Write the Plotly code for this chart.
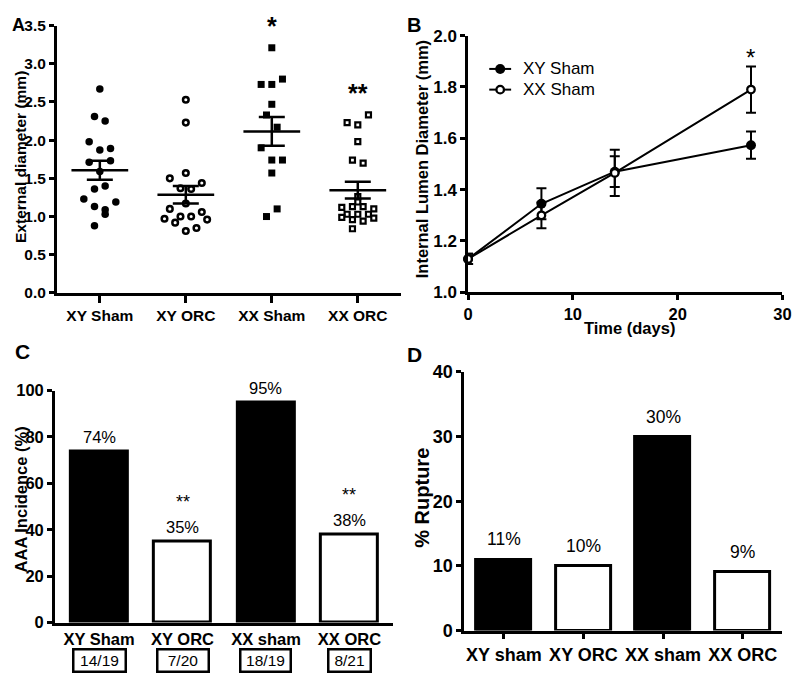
import plotly.graph_objects as go
import numpy as np

FONT = "Liberation Sans, Arial, sans-serif"

# ---------------- Panel A data ----------------
a_groups = ["XY Sham", "XY ORC", "XX Sham", "XX ORC"]
a_xy_sham = [2.67, 2.31, 2.25, 1.98, 1.87, 1.89, 1.71, 1.73, 1.59, 1.36, 1.40, 1.23, 1.19, 1.13, 1.09, 1.03, 0.88]
a_xy_orc = [2.53, 2.23, 1.57, 1.50, 1.44, 1.37, 1.36, 1.17, 1.10, 1.06, 1.00, 1.00, 0.97, 0.92, 0.96, 0.81, 0.85]
a_xx_sham = [3.21, 2.73, 2.73, 2.80, 2.47, 2.33, 2.17, 1.90, 1.74, 1.74, 1.57, 1.10, 1.00]
a_xx_orc = [2.23, 2.20, 2.33, 1.98, 1.74, 1.70, 1.26, 1.19, 1.12, 1.13, 1.13, 1.10, 1.03, 1.03, 1.03,
            0.99, 0.96, 0.94, 0.98, 0.84]
# horizontal slot of each point in the column scatter
a_xy_sham_slot = [0, -1, 1, -2, 0, 2, -2, 2, 0, -1, 1, -3, 3, -1, 1, 1, -1]
a_xy_orc_slot = [0, 0, 0, -3, 3, -1, 1, 0, -3, 3, -1, 1, -4, -2, 4, 0, 2]
a_xx_sham_slot = [0, -2, 0, 2, 0, -1, 1, -2, 0, 2, 0, 1, -1]
a_xx_orc_slot = [-2, 0, 2, 0, -1, 1, 0, 0, -3, -1, 1, 3, -2, 0, 2, -3, -1, 1, 3, -1]
a_yticks = [0.0, 0.5, 1.0, 1.5, 2.0, 2.5, 3.0, 3.5]

# ---------------- Panel B data ----------------
b_days = [0, 7, 14, 27]
b_xy_sham_mean = [1.13, 1.345, 1.47, 1.573]
b_xy_sham_sem = [0.02, 0.06, 0.06, 0.053]
b_xx_sham_mean = [1.13, 1.30, 1.465, 1.79]
b_xx_sham_sem = [0.02, 0.05, 0.09, 0.09]
b_yticks = [1.0, 1.2, 1.4, 1.6, 1.8, 2.0]

# ---------------- Panel C data ----------------
c_groups = ["XY Sham", "XY ORC", "XX sham", "XX ORC"]
c_aaa = [14, 7, 18, 8]
c_total = [19, 20, 19, 21]
c_sig = ["", "**", "", "**"]

# ---------------- Panel D data ----------------
d_groups = ["XY sham", "XY ORC", "XX sham", "XX ORC"]
d_rupture = [11, 10, 30, 9]

# Figure sized to sit inside the page's default 8px body margin.  The helpers
# map target picture pixels (X, Y) to paper fractions, using the offset and
# scale measured on the photographed page.
OFF = 8
W, H = 800 - 2 * OFF, 691 - 2 * OFF
SXs, AYs, SYs = 0.988, 10.6, 0.9705


def dx(X):
    return min(max(X / SXs - OFF, 0), W)


def dy(Y):
    return min(max((Y - AYs) / SYs - OFF, 0), H)


def PX(X):
    return dx(X) / W


def PY(Y):
    return 1 - dy(Y) / H


def PYd(d):
    # paper y from a page pixel measured from the top of the figure
    return 1 - d / H


fig = go.Figure()

# ---------- Panel A ----------
SLOT = 0.062
a_sets = [
    (a_xy_sham, a_xy_sham_slot, "circle", "black", 7.5, 0),
    (a_xy_orc, a_xy_orc_slot, "circle", "white", 5.6, 2.5),
    (a_xx_sham, a_xx_sham_slot, "square", "black", 7.0, 0),
    (a_xx_orc, a_xx_orc_slot, "square", "white", 5.0, 2.2),
]
for i, (vals, slots, sym, fill, size, lw) in enumerate(a_sets):
    fig.add_trace(go.Scatter(
        x=[i + s * SLOT for s in slots], y=vals, mode="markers", xaxis="x", yaxis="y",
        marker=dict(symbol=sym, color=fill, size=size, line=dict(color="black", width=lw)),
        showlegend=False, cliponaxis=False, hoverinfo="skip"))
for i, (vals, *_r) in enumerate(a_sets):
    arr = np.array(vals)
    m = arr.mean()
    sem = arr.std(ddof=1) / np.sqrt(len(arr))
    fig.add_trace(go.Scatter(x=[i - 0.33, i + 0.33], y=[m, m], mode="lines", xaxis="x", yaxis="y",
                             line=dict(color="black", width=2.5), showlegend=False, hoverinfo="skip"))
    fig.add_trace(go.Scatter(x=[i], y=[m], mode="markers", xaxis="x", yaxis="y",
                             marker=dict(size=1, color="rgba(0,0,0,0)"),
                             error_y=dict(type="data", array=[sem], width=13, thickness=2.5, color="black"),
                             showlegend=False, hoverinfo="skip"))

# ---------- Panel B ----------
b_series = [
    ("XY Sham", b_xy_sham_mean, b_xy_sham_sem, dict(symbol="circle", size=10, color="black")),
    ("XX Sham", b_xx_sham_mean, b_xx_sham_sem,
     dict(symbol="circle", size=7.5, color="white", line=dict(color="black", width=2.3))),
]
for name, mean, sem, mk in b_series:
    fig.add_trace(go.Scatter(
        x=b_days, y=mean, name=name, mode="lines+markers", xaxis="x2", yaxis="y2",
        line=dict(color="black", width=2), marker=mk,
        error_y=dict(type="data", array=sem, width=5, thickness=2, color="black"),
        cliponaxis=False, showlegend=False, hoverinfo="skip"))

# ---------- Panel C ----------
c_pct = [100 * a / t for a, t in zip(c_aaa, c_total)]
c_fill = ["black", "white", "black", "white"]
fig.add_trace(go.Bar(x=list(range(4)), y=c_pct, xaxis="x3", yaxis="y3", width=0.68,
                     marker=dict(color=c_fill, line=dict(color="black", width=3)),
                     showlegend=False, hoverinfo="skip"))

# ---------- Panel D ----------
d_fill = ["black", "white", "black", "white"]
fig.add_trace(go.Bar(x=list(range(4)), y=d_rupture, xaxis="x4", yaxis="y4", width=0.69,
                     marker=dict(color=d_fill, line=dict(color="black", width=3)),
                     showlegend=False, hoverinfo="skip"))

# ---------- Axes ----------
axis_common = dict(showline=True, linecolor="black", linewidth=2.6, showgrid=False, zeroline=False,
                   ticks="outside", tickcolor="black", tickwidth=2.6, ticklen=5, mirror=False)


def bold(s):
    return dict(size=s, weight="bold", family=FONT, color="black")


layout = dict(
    width=W, height=H, margin=dict(l=0, r=0, t=0, b=0),
    plot_bgcolor="white", paper_bgcolor="white",
    font=dict(family=FONT, color="black"),
    showlegend=False,
    xaxis=dict(axis_common, domain=[PX(52), PX(398)], range=[-0.5, 3.5], anchor="y",
               tickvals=list(range(4)), ticktext=a_groups, ticklen=7, tickfont=bold(15.5)),
    yaxis=dict(axis_common, domain=[PY(293.3), PY(26)], range=[0, 3.5], anchor="x",
               tickvals=a_yticks, ticktext=[f"{v:.1f}" for v in a_yticks], tickfont=bold(15.5)),
    xaxis2=dict(axis_common, domain=[PX(465.7), 1 - 0.6 / W], range=[0, 30], anchor="y2",
                tickvals=[0, 10, 20, 30], tickfont=bold(16.5), ticklabeloverflow="allow"),
    yaxis2=dict(axis_common, domain=[PY(292.7), PY(36)], range=[1.0, 2.0], anchor="x2",
                tickvals=b_yticks, ticktext=[f"{v:.1f}" for v in b_yticks], tickfont=bold(17)),
    xaxis3=dict(axis_common, domain=[PX(50), PX(390)], range=[-0.53, 3.52], anchor="y3",
                tickvals=list(range(4)), ticktext=c_groups, ticks="", tickfont=bold(16.5)),
    yaxis3=dict(axis_common, domain=[PY(623), PY(391)], range=[0, 100], anchor="x3",
                tickvals=[0, 20, 40, 60, 80, 100], tickfont=bold(16.5)),
    xaxis4=dict(axis_common, domain=[PX(461.7), 1 - 0.6 / W], range=[-0.5, 3.5], anchor="y4",
                tickvals=list(range(4)), ticktext=d_groups, ticklen=6, tickfont=bold(18)),
    yaxis4=dict(axis_common, domain=[PY(631), PY(372.3)], range=[0, 40], anchor="x4",
                tickvals=[0, 10, 20, 30, 40], tickfont=bold(18)),
    bargap=0,
)

ann = []
shapes = []


def text_font(size, is_bold=False):
    return dict(size=size, family=FONT, color="black", weight="bold" if is_bold else "normal")


def add_text(text, x, y, size, is_bold=False, angle=0, xanchor="center"):
    ann.append(dict(text=text, x=x, y=y, xref="paper", yref="paper", showarrow=False,
                    textangle=angle, font=text_font(size, is_bold),
                    xanchor=xanchor, yanchor="middle"))


# panel letters (kept just inside the page edge)
add_text("A", 6 / W, PYd(7), 18, is_bold=True)
add_text("B", PX(411), PYd(7.5), 20, is_bold=True)
add_text("C", PX(17), PY(352), 21, is_bold=True)
add_text("D", PX(412), PY(355), 21, is_bold=True)

# axis titles
add_text("External diameter (mm)", 7.5 / W, PY(157), 15.5, is_bold=True, angle=-90)
add_text("Internal Lumen Diameter (mm)", PX(419), PY(160), 16.5, is_bold=True, angle=-90)
add_text("Time (days)", PX(628), PY(328), 16.5, is_bold=True)
add_text("AAA Incidence (%)", 8 / W, PY(500), 16.5, is_bold=True, angle=-90)
add_text("% Rupture", PX(418.5), PY(498), 20, is_bold=True, angle=-90)

# significance marks above the groups
ann.append(dict(text="*", x=2, y=PYd(8), xref="x", yref="paper", showarrow=False,
                xanchor="center", yanchor="middle", font=text_font(25, True)))
ann.append(dict(text="**", x=3, y=PY(93), xref="x", yref="paper", showarrow=False,
                xanchor="center", yanchor="middle", font=text_font(25, True)))
ann.append(dict(text="*", x=b_days[-1], y=PY(58), xref="x2", yref="paper", showarrow=False,
                xanchor="center", yanchor="middle", font=text_font(24)))

# legend of panel B (drawn by hand)
leg_rows = [69.3, 90.0]
for (name, _m, _s, mk), yrow in zip(b_series, leg_rows):
    shapes.append(dict(type="line", xref="paper", yref="paper", x0=PX(487), x1=PX(509),
                       y0=PY(yrow), y1=PY(yrow), line=dict(color="black", width=2)))
    r = mk["size"] / 2
    shapes.append(dict(type="circle", xref="paper", yref="paper", xsizemode="pixel", ysizemode="pixel",
                       xanchor=PX(498), yanchor=PY(yrow), x0=-r, x1=r, y0=-r, y1=r,
                       fillcolor=mk["color"],
                       line=dict(color="black", width=mk.get("line", {}).get("width", 0.01))))
    add_text(name, PX(519), PY(yrow), 17, xanchor="left")

# panel C labels
for i, p in enumerate(c_pct):
    ann.append(dict(text=f"{p:.0f}%", x=i, y=p, xref="x3", yref="y3", showarrow=False,
                    xanchor="center", yanchor="bottom", yshift=3.5, font=text_font(16.5)))
    if c_sig[i]:
        ann.append(dict(text=c_sig[i], x=i, y=p, xref="x3", yref="y3", showarrow=False,
                        xanchor="center", yanchor="middle", yshift=39, font=text_font(18)))
box_w = [48, 47, 46, 38]
for i, (a, t) in enumerate(zip(c_aaa, c_total)):
    ann.append(dict(text=f"{a}/{t}", x=i, y=PYd(662), xref="x3", yref="paper", showarrow=False,
                    xanchor="center", yanchor="middle", width=box_w[i], height=18,
                    bordercolor="black", borderwidth=2.5, borderpad=1, font=text_font(15.5)))

# panel D labels
for i, v in enumerate(d_rupture):
    ann.append(dict(text=f"{v}%", x=i, y=v, xref="x4", yref="y4", showarrow=False,
                    xanchor="center", yanchor="bottom", yshift=8, font=text_font(17.5)))

layout["annotations"] = ann
layout["shapes"] = shapes
fig.update_layout(layout)
fig.write_html("out.html", config={"displayModeBar": False})
